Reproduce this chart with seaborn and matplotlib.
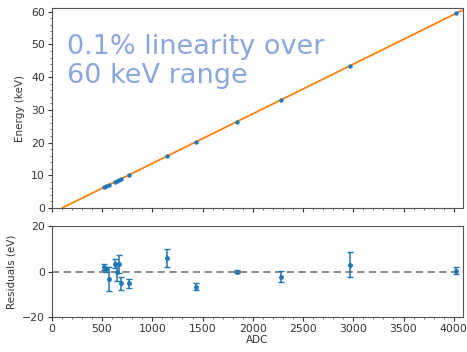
import matplotlib
matplotlib.use("Agg")
import matplotlib.pyplot as plt
from matplotlib.ticker import MultipleLocator
import numpy as np
import pandas as pd
import seaborn as sns

# ---- data ----
adc = [520, 540, 567, 627, 650, 670, 687, 763, 1151, 1433, 1838, 2285, 2965, 4027]
energy_kev = [6.36, 6.66, 7.07, 7.98, 8.33, 8.63, 8.89, 10.04, 15.9, 20.2, 26.34, 33.12, 43.44, 59.54]
residual_ev = [2.0, 1.0, -3.3, 3.4, -0.3, 3.4, -5.2, -5.2, 6.1, -6.6, 0.0, -2.2, 3.0, 0.4]
residual_err = [1.5, 1.2, 5.4, 2.0, 4.0, 4.0, 2.7, 2.0, 4.0, 1.7, 0.5, 2.4, 5.5, 1.5]
fit_slope = 0.015167      # keV / ADC
fit_offset = 101.0        # ADC at 0 keV
fit_range = [101, 4090]   # ADC extent of the fit line
annotation = "0.1% linearity over\n60 keV range"

sns.set_theme(style="ticks")
plt.rcParams['font.family'] = ['DejaVu Sans']

df = pd.DataFrame({"ADC": adc, "E": energy_kev, "res": residual_ev, "err": residual_err})
fit_x = np.array(fit_range, dtype=float)
fit_df = pd.DataFrame({"ADC": fit_x, "E": fit_slope * (fit_x - fit_offset)})

fig = plt.figure(figsize=(4.67, 3.52), dpi=100)
ax1 = fig.add_axes([0.111, 0.409, 0.880, 0.568])
ax2 = fig.add_axes([0.111, 0.0995, 0.880, 0.258])

blue = "#1f77b4"
orange = "#ff7f0e"

sns.lineplot(data=fit_df, x="ADC", y="E", ax=ax1, color=orange, lw=1.3)
sns.scatterplot(data=df, x="ADC", y="E", ax=ax1, color=blue, s=10, edgecolor=blue, linewidth=0, zorder=3)
ax1.set_xlim(0, 4090)
ax1.set_ylim(0, 61.1)
ax1.set_ylabel("Energy (keV)", fontsize=7.5, color="#333333")
ax1.set_xlabel("")
ax1.tick_params(labelbottom=False)
ax1.text(0.036, 0.87, annotation, transform=ax1.transAxes, fontsize=19.5,
         color="#8ba7dd", va="top", ha="left", linespacing=1.15)

ax2.axhline(0, color="#808080", ls="--", lw=1.3, dashes=(4, 2.5), zorder=1)
ax2.errorbar(df["ADC"], df["res"], yerr=df["err"], fmt="o", ms=2.5, color=blue,
             ecolor=blue, elinewidth=1.1, capsize=2, capthick=1, zorder=3)
ax2.set_xlim(0, 4090)
ax2.set_ylim(-20, 20)
ax2.set_ylabel("Residuals (eV)", fontsize=7.5, color="#333333")
ax2.set_xlabel("ADC", fontsize=7.5, color="#333333", labelpad=1)
ax2.yaxis.set_major_locator(MultipleLocator(20))

for ax in (ax1, ax2):
    ax.xaxis.set_major_locator(MultipleLocator(500))
    ax.xaxis.set_minor_locator(MultipleLocator(100))
    ax.tick_params(which="major", labelsize=7.8, length=3, width=0.8, colors="#333333", pad=2)
    ax.tick_params(which="minor", length=1.5, width=0.6, colors="#555555")
    for sp in ax.spines.values():
        sp.set_visible(True)
        sp.set_color("#555555")
        sp.set_linewidth(0.8)
ax1.yaxis.set_major_locator(MultipleLocator(10))
ax1.yaxis.set_minor_locator(MultipleLocator(2))

fig.savefig("out.png", dpi=100)
